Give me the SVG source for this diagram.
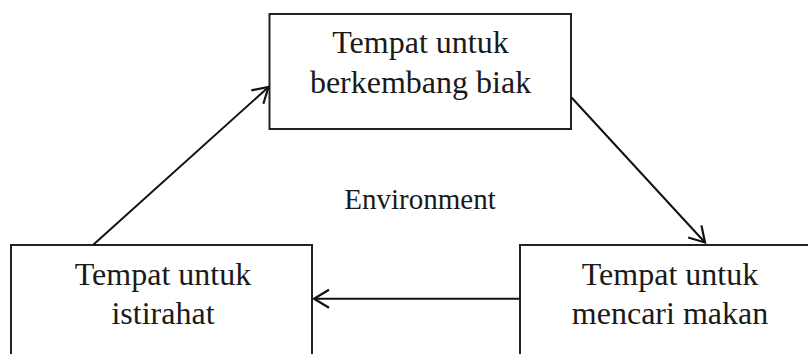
<svg xmlns="http://www.w3.org/2000/svg" width="808" height="354" viewBox="0 0 808 354">
<defs>
<style>
.box{fill:#fff;stroke:#222;stroke-width:2}
.lbl{font-family:"Liberation Serif","Times New Roman",serif;font-size:32px;fill:#1a1a1a;text-anchor:middle}
.env{font-family:"Liberation Serif","Times New Roman",serif;font-size:29px;fill:#1a1a1a;text-anchor:middle}
.conn{stroke:#111;stroke-width:2;fill:none}
</style>
<marker id="arr" markerUnits="userSpaceOnUse" markerWidth="30" markerHeight="30" viewBox="-20 -15 25 30" refX="0" refY="0" orient="auto">
<path d="M-15,-9 L0,0 L-15,9" fill="none" stroke="#111" stroke-width="2.2" stroke-linejoin="miter"/>
</marker>
</defs>
<rect width="808" height="354" fill="#fff"/>
<g id="node-berkembang">
<rect class="box" x="269.5" y="14" width="301.5" height="115"/>
<text class="lbl" x="420.5" y="53">Tempat untuk</text>
<text class="lbl" x="420.5" y="93">berkembang biak</text>
</g>
<g id="node-istirahat">
<rect class="box" x="11" y="245" width="301" height="140"/>
<text class="lbl" x="163" y="285">Tempat untuk</text>
<text class="lbl" x="163" y="324">istirahat</text>
</g>
<g id="node-makan">
<rect class="box" x="520" y="245" width="300" height="140"/>
<text class="lbl" x="670" y="285">Tempat untuk</text>
<text class="lbl" x="670" y="324">mencari makan</text>
</g>
<g id="label-environment">
<text class="env" x="420" y="209">Environment</text>
</g>
<g id="connectors">
<line class="conn" x1="93" y1="245" x2="268.5" y2="87" marker-end="url(#arr)"/>
<line class="conn" x1="571.5" y1="97.5" x2="705" y2="242.5" marker-end="url(#arr)"/>
<line class="conn" x1="519" y1="298.7" x2="314" y2="298.7" marker-end="url(#arr)"/>
</g>
</svg>
